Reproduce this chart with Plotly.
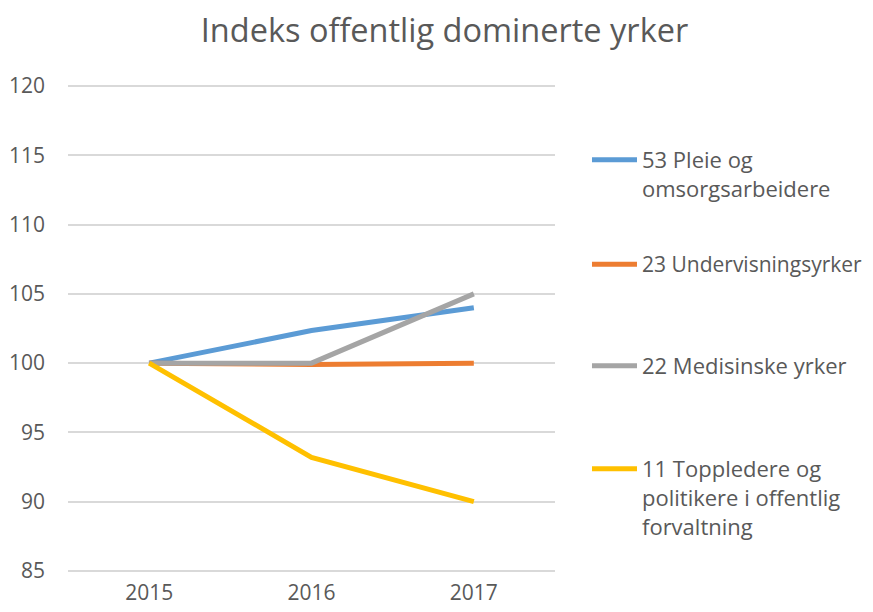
import plotly.graph_objects as go

years = ["2015", "2016", "2017"]
series_names = [
    "53 Pleie og<br>omsorgsarbeidere",
    "23 Undervisningsyrker",
    "22 Medisinske yrker",
    "11 Toppledere og<br>politikere i offentlig<br>forvaltning",
]
pleie = [100, 102.35, 104.0]
undervisning = [100, 99.9, 100.0]
medisinske = [100, 100.0, 105.0]
toppledere = [100, 93.2, 90.0]
colors = ["#5B9BD5", "#ED7D31", "#A5A5A5", "#FFC000"]
y_ticks = [85, 90, 95, 100, 105, 110, 115, 120]

FONT = "Open Sans"
TXT = "#595959"

fig = go.Figure()
all_vals = [pleie, undervisning, medisinske, toppledere]
legend_ids = ["legend", "legend2", "legend3", "legend4"]
for name, vals, col, lg in zip(series_names, all_vals, colors, legend_ids):
    fig.add_trace(go.Scatter(
        x=years, y=vals, name=name, mode="lines",
        line=dict(color=col, width=5),
        legend=lg, showlegend=True,
    ))


def leg(x, y, size=22):
    return dict(
        x=x, y=y,
        font=dict(family=FONT, size=size, color=TXT),
        bgcolor="rgba(0,0,0,0)",
        valign="top",
        xanchor="left",
        yanchor="top",
        itemwidth=45,
        visible=True,
    )


# plot area now spans 489 px (figure y 76..565)
def py(page_y):
    return 1 - (page_y - 8 - 76) / 489.0


leg_x = 1.0657
leg_y = [py(139), py(244), py(345), py(448)]
fig.update_layout(
    width=873, height=612,
    showlegend=True,
    margin=dict(l=60, r=326, t=76, b=47, autoexpand=False),
    paper_bgcolor="white", plot_bgcolor="white",
    title=dict(text="Indeks offentlig dominerte yrker",
               font=dict(family=FONT, size=32.5, color=TXT),
               x=0.5, xanchor="center", y=0.981, yanchor="top"),
    xaxis=dict(type="category", range=[-0.5, 2.5], showgrid=False,
               showline=False,
               ticks="", tickfont=dict(family=FONT, size=21, color=TXT),
               ticklabelstandoff=5),
    yaxis=dict(range=[84.85, 120.15], tickvals=y_ticks, showgrid=True,
               gridcolor="#D9D9D9", gridwidth=1.5, zeroline=False,
               showline=False, ticks="",
               tickfont=dict(family=FONT, size=21, color=TXT),
               ticklabelstandoff=22),
    legend=leg(leg_x, leg_y[0]),
    legend2=leg(leg_x, leg_y[1], 21),
    legend3=leg(leg_x, leg_y[2]),
    legend4=leg(leg_x, leg_y[3]),
)
fig.write_html("out.html")
